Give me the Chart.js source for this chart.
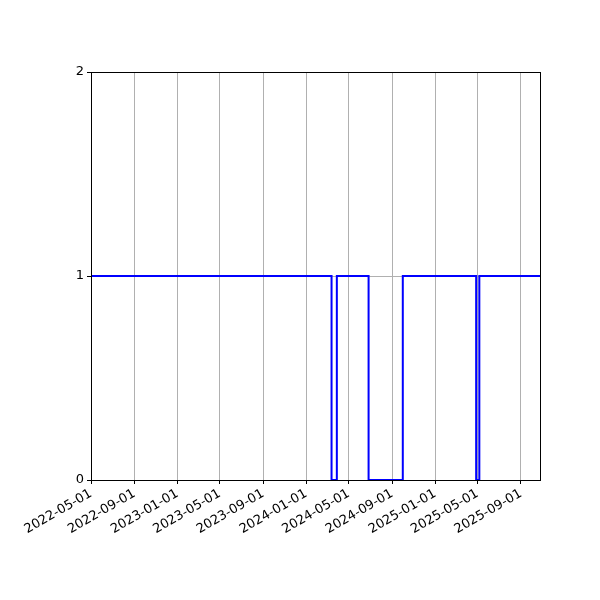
<!DOCTYPE html>
<html>
<head>
<meta charset="utf-8">
<script src="https://cdn.jsdelivr.net/npm/chart.js@4/dist/chart.umd.min.js"></script>
<style>
  html, body { margin: 0; padding: 0; background: #fff; }
  #wrap { width: 600px; height: 600px; }
</style>
</head>
<body>
<div id="wrap"><canvas id="chart" width="600" height="600"></canvas></div>
<script>
// Step series: date where the state changes, and the value from that date on
const changeDates = ['2022-05-01', '2024-03-13', '2024-03-28', '2024-06-26', '2024-10-01', '2025-04-27', '2025-05-06', '2025-10-25'];
const stateValues = [1, 0, 1, 0, 1, 0, 1, 1];

// Axis ticks
const xTickDates = ['2022-05-01', '2022-09-01', '2023-01-01', '2023-05-01', '2023-09-01', '2024-01-01',
                    '2024-05-01', '2024-09-01', '2025-01-01', '2025-05-01', '2025-09-01'];
const yTicks = [0, 1, 2];

const xMin = Date.parse('2022-05-01');
const xMax = Date.parse('2025-10-25');

const points = changeDates.map((d, i) => ({ x: Date.parse(d), y: stateValues[i] }));

// draw the full box round the plot, like matplotlib spines
const frame = {
    id: 'frame',
    afterDatasetsDraw(chart) {
        const { ctx, chartArea: a } = chart;
        ctx.save();
        ctx.strokeStyle = '#000';
        ctx.lineWidth = 1;
        ctx.strokeRect(Math.round(a.left) + 0.5, Math.round(a.top) + 0.5,
                       Math.round(a.right - a.left), Math.round(a.bottom - a.top));
        ctx.restore();
    }
};

const font = { family: 'DejaVu Sans', size: 13 };

new Chart(document.getElementById('chart').getContext('2d'), {
    type: 'line',
    data: {
        datasets: [{
            data: points,
            borderColor: '#0000ff',
            borderWidth: 2,
            pointRadius: 0,
            stepped: true,
            fill: false
        }]
    },
    options: {
        responsive: false,
        animation: false,
        layout: { padding: { top: 72, right: 60, left: 0, bottom: 0 } },
        plugins: { legend: { display: false }, tooltip: { enabled: false } },
        scales: {
            x: {
                type: 'linear',
                min: xMin,
                max: xMax,
                afterBuildTicks: axis => { axis.ticks = xTickDates.map(d => ({ value: Date.parse(d) })); },
                afterFit: axis => { axis.height = 120; },
                ticks: {
                    color: '#000',
                    font,
                    minRotation: 30,
                    maxRotation: 30,
                    padding: 2,
                    autoSkip: false,
                    callback: (v, i) => xTickDates[i]
                },
                grid: { color: '#b0b0b0', lineWidth: 1, tickColor: '#000', tickLength: 4 },
                border: { display: true, color: '#000' }
            },
            y: {
                min: 0,
                max: 2,
                afterBuildTicks: axis => { axis.ticks = yTicks.map(v => ({ value: v })); },
                afterFit: axis => { axis.width = 91; },
                ticks: { color: '#000', font, padding: 3 },
                grid: { color: '#b0b0b0', lineWidth: 1, tickColor: '#000', tickLength: 4 },
                border: { display: true, color: '#000' }
            }
        }
    },
    plugins: [frame]
});
</script>
</body>
</html>
